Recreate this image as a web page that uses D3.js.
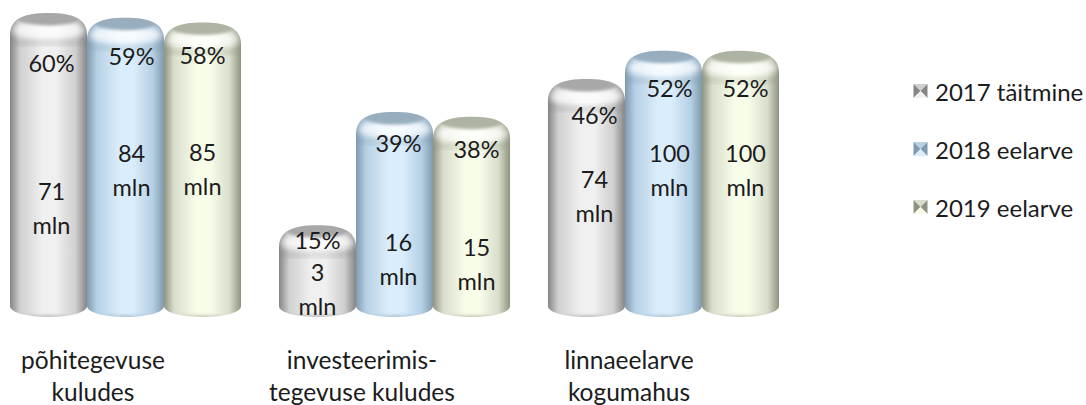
<!DOCTYPE html>
<html>
<head>
<meta charset="utf-8">
<script src="https://d3js.org/d3.v7.min.js"></script>
<style>
    html, body { margin: 0; background: #fff; }
    svg { display: block; }
    text { font-family: Lato, "Noto Sans", sans-serif; fill: #1c1c1c; font-size: 24px; }
    .val { font-size: 23.5px; }
    .cat { font-size: 24.5px; }
</style>
</head>
<body>
<svg width="1086" height="405"></svg>
<script>
// chart values
var categories = ["põhitegevuse kulud", "investeerimistegevuse kulud", "linnaeelarve"];
var categoryLines = [["põhitegevuse", "kuludes"], ["investeerimis-", "tegevuse kuludes"], ["linnaeelarve", "kogumahus"]];
var seriesNames = ["2017 täitmine", "2018 eelarve", "2019 eelarve"];
var pct2017 = [60, 15, 46];
var pct2018 = [59, 39, 52];
var pct2019 = [58, 38, 52];
var mln2017 = [71, 3, 74];
var mln2018 = [84, 16, 100];
var mln2019 = [85, 15, 100];

// colours per series: edge, mid, highlight, cap
var palette = [
    ["#858585", "#cfcfcf", "#f0f0f0", "#a8a8a8"],
    ["#7f99ad", "#b6d0e4", "#daedfc", "#98aebf"],
    ["#8f9480", "#d8decb", "#f8fdea", "#aeb4a3"]
];

// the labels were placed by hand in the original: nudge from bar centre / bar top
var labelDx = [[3, 0, 8], [6, 4, 6], [0, 5, 5]];
var pctDy = [[50, 15, 36], [38, 31, 37], [33, 32, 37]];
var mlnDy = [[178, 47, 100], [135, 130, 102], [130, 130, 102]];

var pct = [pct2017, pct2018, pct2019];
var mln = [mln2017, mln2018, mln2019];

var svg = d3.select("svg");
var defs = svg.append("defs");

var x0 = d3.scaleBand().domain(categories).range([10, 779]).paddingInner(0.141);
var x1 = d3.scaleBand().domain(seriesNames).range([0, x0.bandwidth()]);
// y is the top of the cylinder silhouette
var y = d3.scaleLinear().domain([0, 60]).range([296, 13]);
var bottom = 317;

defs.append("filter").attr("id", "soft").attr("x", "-30%").attr("y", "-60%").attr("width", "160%").attr("height", "220%")
    .append("feGaussianBlur").attr("stdDeviation", 3);
defs.append("filter").attr("id", "softer").attr("x", "-30%").attr("y", "-60%").attr("width", "160%").attr("height", "220%")
    .append("feGaussianBlur").attr("stdDeviation", 1.5);
defs.append("filter").attr("id", "markerBlur").attr("x", "-20%").attr("y", "-20%").attr("width", "140%").attr("height", "140%")
    .append("feGaussianBlur").attr("stdDeviation", 0.6);

palette.forEach(function(p, i) {
    var g = defs.append("linearGradient").attr("id", "body" + i);
    [[0, p[0]], [0.13, p[1]], [0.42, p[2]], [0.6, p[2]], [0.85, p[1]], [1, p[0]]].forEach(function(s) {
        g.append("stop").attr("offset", s[0]).attr("stop-color", s[1]);
    });
});

function cylinderPath(x, w, top) {
    return "M" + x + "," + (top + 22)
        + "C" + x + "," + (top + 5) + " " + (x + w * 0.2) + "," + top + " " + (x + w / 2) + "," + top
        + "C" + (x + w * 0.8) + "," + top + " " + (x + w) + "," + (top + 5) + " " + (x + w) + "," + (top + 22)
        + "L" + (x + w) + "," + (bottom - 11)
        + "C" + (x + w) + "," + (bottom - 4) + " " + (x + w * 0.75) + "," + bottom + " " + (x + w / 2) + "," + bottom
        + "C" + (x + w * 0.25) + "," + bottom + " " + x + "," + (bottom - 4) + " " + x + "," + (bottom - 11) + "Z";
}

var bars = [];
categories.forEach(function(c, ci) {
    seriesNames.forEach(function(s, si) {
        bars.push({ci: ci, si: si, x: x0(c) + x1(s), w: x1.bandwidth(), top: y(pct[si][ci])});
    });
});

var bar = svg.append("g").selectAll("g").data(bars).enter().append("g");

bar.each(function(d, i) {
    var g = d3.select(this), p = palette[d.si], cx = d.x + d.w / 2;
    var path = cylinderPath(d.x, d.w, d.top);
    defs.append("clipPath").attr("id", "clip" + i).append("path").attr("d", path);
    g.append("path").attr("d", path).attr("fill", "url(#body" + d.si + ")");
    var inner = g.append("g").attr("clip-path", "url(#clip" + i + ")");
    // shoulder shade, bright rim, then the dark flat cap
    inner.append("rect").attr("x", d.x - 6).attr("y", d.top + 27).attr("width", d.w + 12).attr("height", 4)
        .attr("fill", p[0]).attr("opacity", 0.4).attr("filter", "url(#soft)");
    inner.append("ellipse").attr("cx", cx).attr("cy", d.top + 17).attr("rx", d.w * 0.48).attr("ry", 9)
        .attr("fill", "#fff").attr("opacity", 0.75).attr("filter", "url(#soft)");
    inner.append("ellipse").attr("cx", cx).attr("cy", d.top + 4).attr("rx", d.w * 0.43).attr("ry", 8.5)
        .attr("fill", p[3]).attr("filter", "url(#softer)");
    // bottom rim
    inner.append("ellipse").attr("cx", cx).attr("cy", bottom + 3).attr("rx", d.w * 0.55).attr("ry", 5)
        .attr("fill", p[0]).attr("opacity", 0.45).attr("filter", "url(#softer)");
});

// value labels
bar.each(function(d) {
    var g = d3.select(this), cx = d.x + d.w / 2 + labelDx[d.si][d.ci];
    g.append("text").attr("class", "val").attr("x", cx).attr("y", d.top + pctDy[d.si][d.ci]).attr("text-anchor", "middle")
        .attr("dominant-baseline", "central").text(pct[d.si][d.ci] + "%");
    g.append("text").attr("class", "val").attr("x", cx).attr("y", d.top + mlnDy[d.si][d.ci]).attr("text-anchor", "middle")
        .attr("dominant-baseline", "central").text(mln[d.si][d.ci]);
    g.append("text").attr("class", "val").attr("x", cx).attr("y", d.top + mlnDy[d.si][d.ci] + 34).attr("text-anchor", "middle")
        .attr("dominant-baseline", "central").text("mln");
});

// category labels
var catLabel = svg.append("g").selectAll("text").data(categories).enter().append("text")
    .attr("class", "cat")
    .attr("text-anchor", "middle")
    .attr("transform", function(d, i) { return "translate(" + [93, 362, 629][i] + ",0)"; });
catLabel.selectAll("tspan").data(function(d, i) { return categoryLines[i]; }).enter().append("tspan")
    .attr("x", 0)
    .attr("y", function(d, i) { return 369 + i * 32; })
    .text(function(d) { return d; });

// legend
var legendY = d3.scalePoint().domain(seriesNames).range([91, 207]);
var legend = svg.append("g").selectAll("g").data(seriesNames).enter().append("g")
    .attr("transform", function(d) { return "translate(913," + legendY(d) + ")"; });
legend.each(function(d, i) {
    var g = d3.select(this), p = palette[i], a = -7, b = 7, m = 0;
    var faces = [
        [[a, a], [b, a], [m, m], p[1]],
        [[a, a], [a, b], [m, m], p[0]],
        [[b, a], [b, b], [m, m], p[0]],
        [[a, b], [b, b], [m, m], p[2]]
    ];
    g.append("g").attr("filter", "url(#markerBlur)")
        .selectAll("polygon").data(faces).enter().append("polygon")
        .attr("transform", "translate(7.5,0)")
        .attr("points", function(f) { return [f[0], f[1], f[2]].join(" "); })
        .attr("fill", function(f) { return f[3]; });
    g.append("text").attr("x", 22).attr("y", 0).attr("dominant-baseline", "central").text(d);
});
</script>
</body>
</html>
